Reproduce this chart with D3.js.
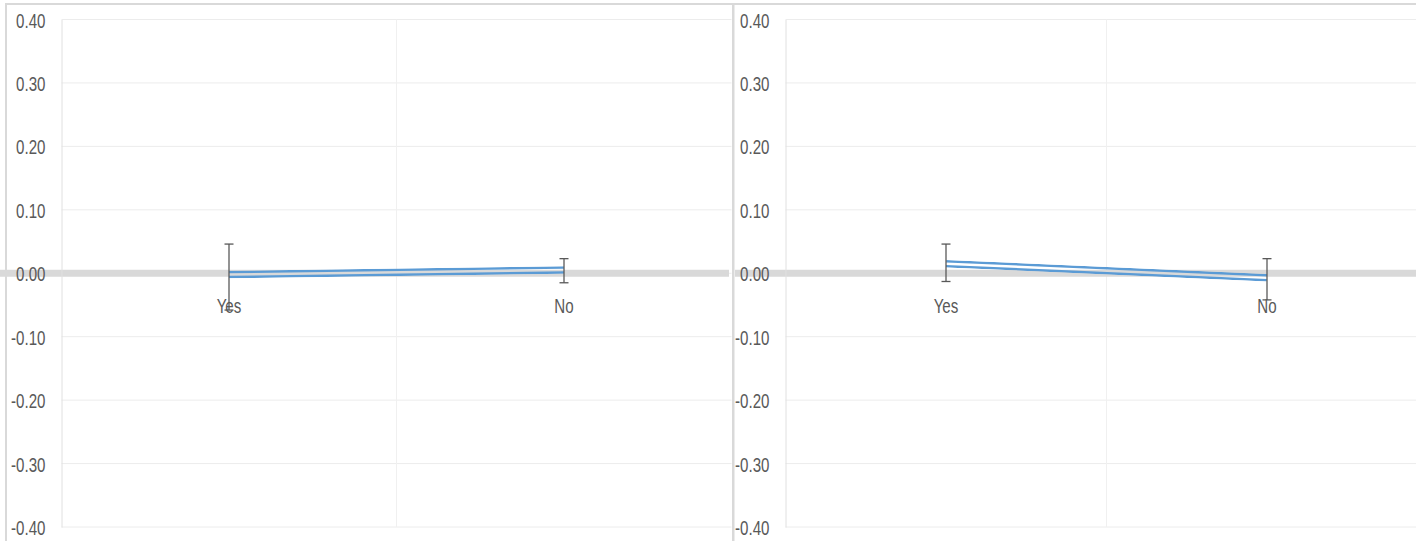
<!DOCTYPE html>
<html>
<head>
<meta charset="utf-8">
<script src="https://cdn.jsdelivr.net/npm/d3@7"></script>
<style>
  html, body { margin: 0; padding: 0; background: #fff; }
  svg { display: block; }
  .lbl { font-family: "Liberation Sans", Arial, sans-serif; font-size: 21px; fill: #595959; }
</style>
</head>
<body>
<div id="viz"></div>
<script>
// values
const categories = ['Yes', 'No'];
const yTickValues = [0.4, 0.3, 0.2, 0.1, 0, -0.1, -0.2, -0.3, -0.4];

const leftMean = [-0.002, 0.005];
const leftHigh = [0.046, 0.023];
const leftLow = [-0.058, -0.015];

const rightMean = [0.015, -0.007];
const rightHigh = [0.046, 0.023];
const rightLow = [-0.013, -0.042];

const width = 1416;
const height = 541;

const svg = d3.select('#viz')
    .append('svg')
    .attr('width', width)
    .attr('height', height);

const defs = svg.append('defs');

const yScale = d3.scaleLinear().domain([-0.4, 0.4]).range([527, 19.5]);

const panels = [
    { id: 'l', plotLeft: 61.5, plotRight: 731.5, bandFrom: 0, bandTo: 729, mean: leftMean, high: leftHigh, low: leftLow },
    { id: 'r', plotLeft: 785.5, plotRight: 1427.5, bandFrom: 735, bandTo: 1416, mean: rightMean, high: rightHigh, low: rightLow }
];

function drawPanel(p) {
    const xScale = d3.scaleBand().domain(categories).range([p.plotLeft, p.plotRight]).padding(0);
    const cx = d => xScale(d) + xScale.bandwidth() / 2;
    const g = svg.append('g');

    // horizontal gridlines
    g.selectAll('line.grid')
        .data(yTickValues)
        .enter()
        .append('line')
        .attr('class', 'grid')
        .attr('x1', p.plotLeft)
        .attr('x2', p.plotRight)
        .attr('y1', d => yScale(d))
        .attr('y2', d => yScale(d))
        .attr('stroke', '#ececec')
        .attr('stroke-width', 1);

    // vertical gridline between categories
    g.selectAll('line.vgrid')
        .data(categories.slice(1))
        .enter()
        .append('line')
        .attr('class', 'vgrid')
        .attr('x1', d => xScale(d))
        .attr('x2', d => xScale(d))
        .attr('y1', yScale(0.4))
        .attr('y2', yScale(-0.4))
        .attr('stroke', '#f0f0f0');

    // zero line band, drawn under the labels
    g.append('line')
        .attr('x1', p.bandFrom)
        .attr('x2', p.bandTo)
        .attr('y1', yScale(0))
        .attr('y2', yScale(0))
        .attr('stroke', '#d9d9d9')
        .attr('stroke-width', 7);

    // y axis
    const yAxis = d3.axisLeft(yScale)
        .tickValues(yTickValues)
        .tickSize(0)
        .tickFormat(d => d.toFixed(2));
    const ay = g.append('g')
        .attr('transform', 'translate(' + p.plotLeft + ',0)')
        .call(yAxis);
    ay.select('.domain').attr('stroke', '#e0e0e0').attr('stroke-width', 1);
    ay.selectAll('text')
        .attr('class', 'lbl')
        .attr('font-family', null)
        .attr('font-size', null)
        .attr('fill', null)
        .attr('x', 0)
        .attr('dy', null)
        .attr('y', 7.5)
        .attr('text-anchor', 'end')
        .attr('transform', 'translate(-16,0) scale(0.72,1)');

    // category labels
    g.selectAll('text.cat')
        .data(categories)
        .enter()
        .append('text')
        .attr('class', 'lbl cat')
        .attr('text-anchor', 'middle')
        .attr('transform', d => 'translate(' + cx(d) + ',313) scale(0.72,1)')
        .text(d => d);

    // double (compound) line
    const line = d3.line().x((d, i) => cx(categories[i])).y(d => yScale(d));
    const mask = defs.append('mask')
        .attr('id', 'mask-' + p.id)
        .attr('maskUnits', 'userSpaceOnUse')
        .attr('x', 0).attr('y', 0).attr('width', width).attr('height', height);
    mask.append('path').datum(p.mean).attr('d', line)
        .attr('fill', 'none').attr('stroke', '#fff').attr('stroke-width', 7.5);
    mask.append('path').datum(p.mean).attr('d', line)
        .attr('fill', 'none').attr('stroke', '#000').attr('stroke-width', 2.5);
    g.append('path')
        .datum(p.mean)
        .attr('d', line)
        .attr('fill', 'none')
        .attr('stroke', '#5b9bd5')
        .attr('stroke-width', 7.5)
        .attr('mask', 'url(#mask-' + p.id + ')');

    // error bars
    const eb = g.selectAll('g.err')
        .data(categories)
        .enter()
        .append('g')
        .attr('class', 'err')
        .attr('stroke', '#595959')
        .attr('stroke-width', 1.3);
    eb.append('line')
        .attr('x1', d => cx(d)).attr('x2', d => cx(d))
        .attr('y1', (d, i) => yScale(p.high[i]))
        .attr('y2', (d, i) => yScale(p.low[i]));
    eb.append('line')
        .attr('x1', d => cx(d) - 4.5).attr('x2', d => cx(d) + 4.5)
        .attr('y1', (d, i) => yScale(p.high[i]))
        .attr('y2', (d, i) => yScale(p.high[i]));
    eb.append('line')
        .attr('x1', d => cx(d) - 4.5).attr('x2', d => cx(d) + 4.5)
        .attr('y1', (d, i) => yScale(p.low[i]))
        .attr('y2', (d, i) => yScale(p.low[i]));
}

panels.forEach(drawPanel);

// chart borders
svg.append('rect')
    .attr('x', 6).attr('y', 4)
    .attr('width', 727).attr('height', 560)
    .attr('fill', 'none')
    .attr('stroke', '#d9d9d9')
    .attr('stroke-width', 2);
svg.append('rect')
    .attr('x', 733.5).attr('y', 4)
    .attr('width', 720).attr('height', 560)
    .attr('fill', 'none')
    .attr('stroke', '#d9d9d9')
    .attr('stroke-width', 2);
</script>
</body>
</html>
